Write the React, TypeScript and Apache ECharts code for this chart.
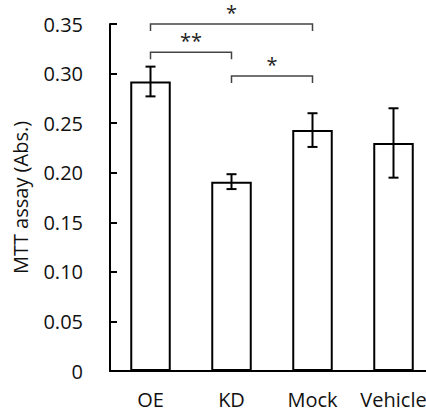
import React, { useEffect, useRef } from "react";
import * as echarts from "echarts";

const categories = ["OE", "KD", "Mock", "Vehicle"];
const means = [0.292, 0.191, 0.243, 0.230];
const errors = [0.015, 0.0075, 0.017, 0.035];
const yTicks = [0, 0.05, 0.1, 0.15, 0.2, 0.25, 0.3, 0.35];
// [fromIndex, toIndex, yLevel, label]
const brackets: [number, number, number, string][] = [
  [0, 2, 0.35, "*"],
  [0, 1, 0.3215, "**"],
  [1, 2, 0.2975, "*"],
];

const FONT = "'Open Sans', sans-serif";

export default function App() {
  const ref = useRef<HTMLDivElement>(null);
  useEffect(() => {
    if (!ref.current) return;
    const chart = echarts.init(ref.current, undefined, { renderer: "svg" });
    chart.setOption({
      animation: false,
      grid: { left: 110, top: 24, width: 324, height: 347 },
      xAxis: {
        type: "category",
        data: categories,
        axisTick: { show: false },
        axisLine: { lineStyle: { color: "#000", width: 2 } },
        axisLabel: {
          color: "#111",
          fontSize: 20,
          lineHeight: 18,
          fontFamily: FONT,
          margin: 19,
          interval: 0,
          hideOverlap: false,
        },
      },
      yAxis: {
        type: "value",
        min: 0,
        max: 0.35,
        interval: 0.05,
        splitLine: { show: false },
        axisLine: { show: true, lineStyle: { color: "#000", width: 2 } },
        axisTick: { show: true, inside: true, length: 7, lineStyle: { color: "#000", width: 2 } },
        axisLabel: {
          color: "#111",
          fontSize: 20,
          fontFamily: FONT,
          margin: 27,
          formatter: (v: number) => {
            const t = yTicks.find((x) => Math.abs(x - v) < 1e-9);
            return t === 0 ? "0" : (t ?? v).toFixed(2);
          },
        },
        name: "MTT assay (Abs.)",
        nameLocation: "middle",
        nameGap: 80,
        nameTextStyle: { color: "#111", fontSize: 20, fontFamily: FONT },
      },
      series: [
        {
          type: "bar",
          data: means,
          barWidth: "50%",
          itemStyle: { color: "#fff", borderColor: "#000", borderWidth: 2 },
        },
        {
          type: "custom",
          data: means.map((m, i) => [i, m - errors[i], m + errors[i]]),
          renderItem: (params: any, api: any) => {
            const x = api.value(0);
            const lo = api.coord([x, api.value(1)]);
            const hi = api.coord([x, api.value(2)]);
            const hw = 5;
            const style = { stroke: "#000", lineWidth: 2 };
            return {
              type: "group",
              children: [
                { type: "line", shape: { x1: lo[0], y1: lo[1], x2: hi[0], y2: hi[1] }, style },
                { type: "line", shape: { x1: lo[0] - hw, y1: lo[1], x2: lo[0] + hw, y2: lo[1] }, style },
                { type: "line", shape: { x1: hi[0] - hw, y1: hi[1], x2: hi[0] + hw, y2: hi[1] }, style },
              ],
            };
          },
          z: 5,
        },
        {
          type: "custom",
          clip: false,
          data: brackets.map((b) => [b[0], b[1], b[2], b[3]]),
          renderItem: (params: any, api: any) => {
            const b = brackets[params.dataIndex];
            const p1 = api.coord([b[0], b[2]]);
            const p2 = api.coord([b[1], b[2]]);
            const drop = 7;
            const style = { stroke: "#444", lineWidth: 1.5, fill: "none" };
            return {
              type: "group",
              children: [
                {
                  type: "polyline",
                  shape: {
                    points: [
                      [p1[0], p1[1] + drop],
                      [p1[0], p1[1]],
                      [p2[0], p2[1]],
                      [p2[0], p2[1] + drop],
                    ],
                  },
                  style,
                },
                {
                  type: "text",
                  x: (p1[0] + p2[0]) / 2,
                  y: p1[1] - 2,
                  style: {
                    text: b[3],
                    fill: "#222",
                    font: `20px ${FONT}`,
                    align: "center",
                    verticalAlign: "bottom",
                  },
                },
              ],
            };
          },
          z: 6,
        },
      ],
    });
    return () => chart.dispose();
  }, []);
  return (
    <div
      style={{
        position: "fixed",
        left: 0,
        top: 0,
        width: 426,
        height: 412,
        overflow: "hidden",
        background: "#fff",
      }}
    >
      <div ref={ref} style={{ width: 450, height: 412 }} />
    </div>
  );
}
